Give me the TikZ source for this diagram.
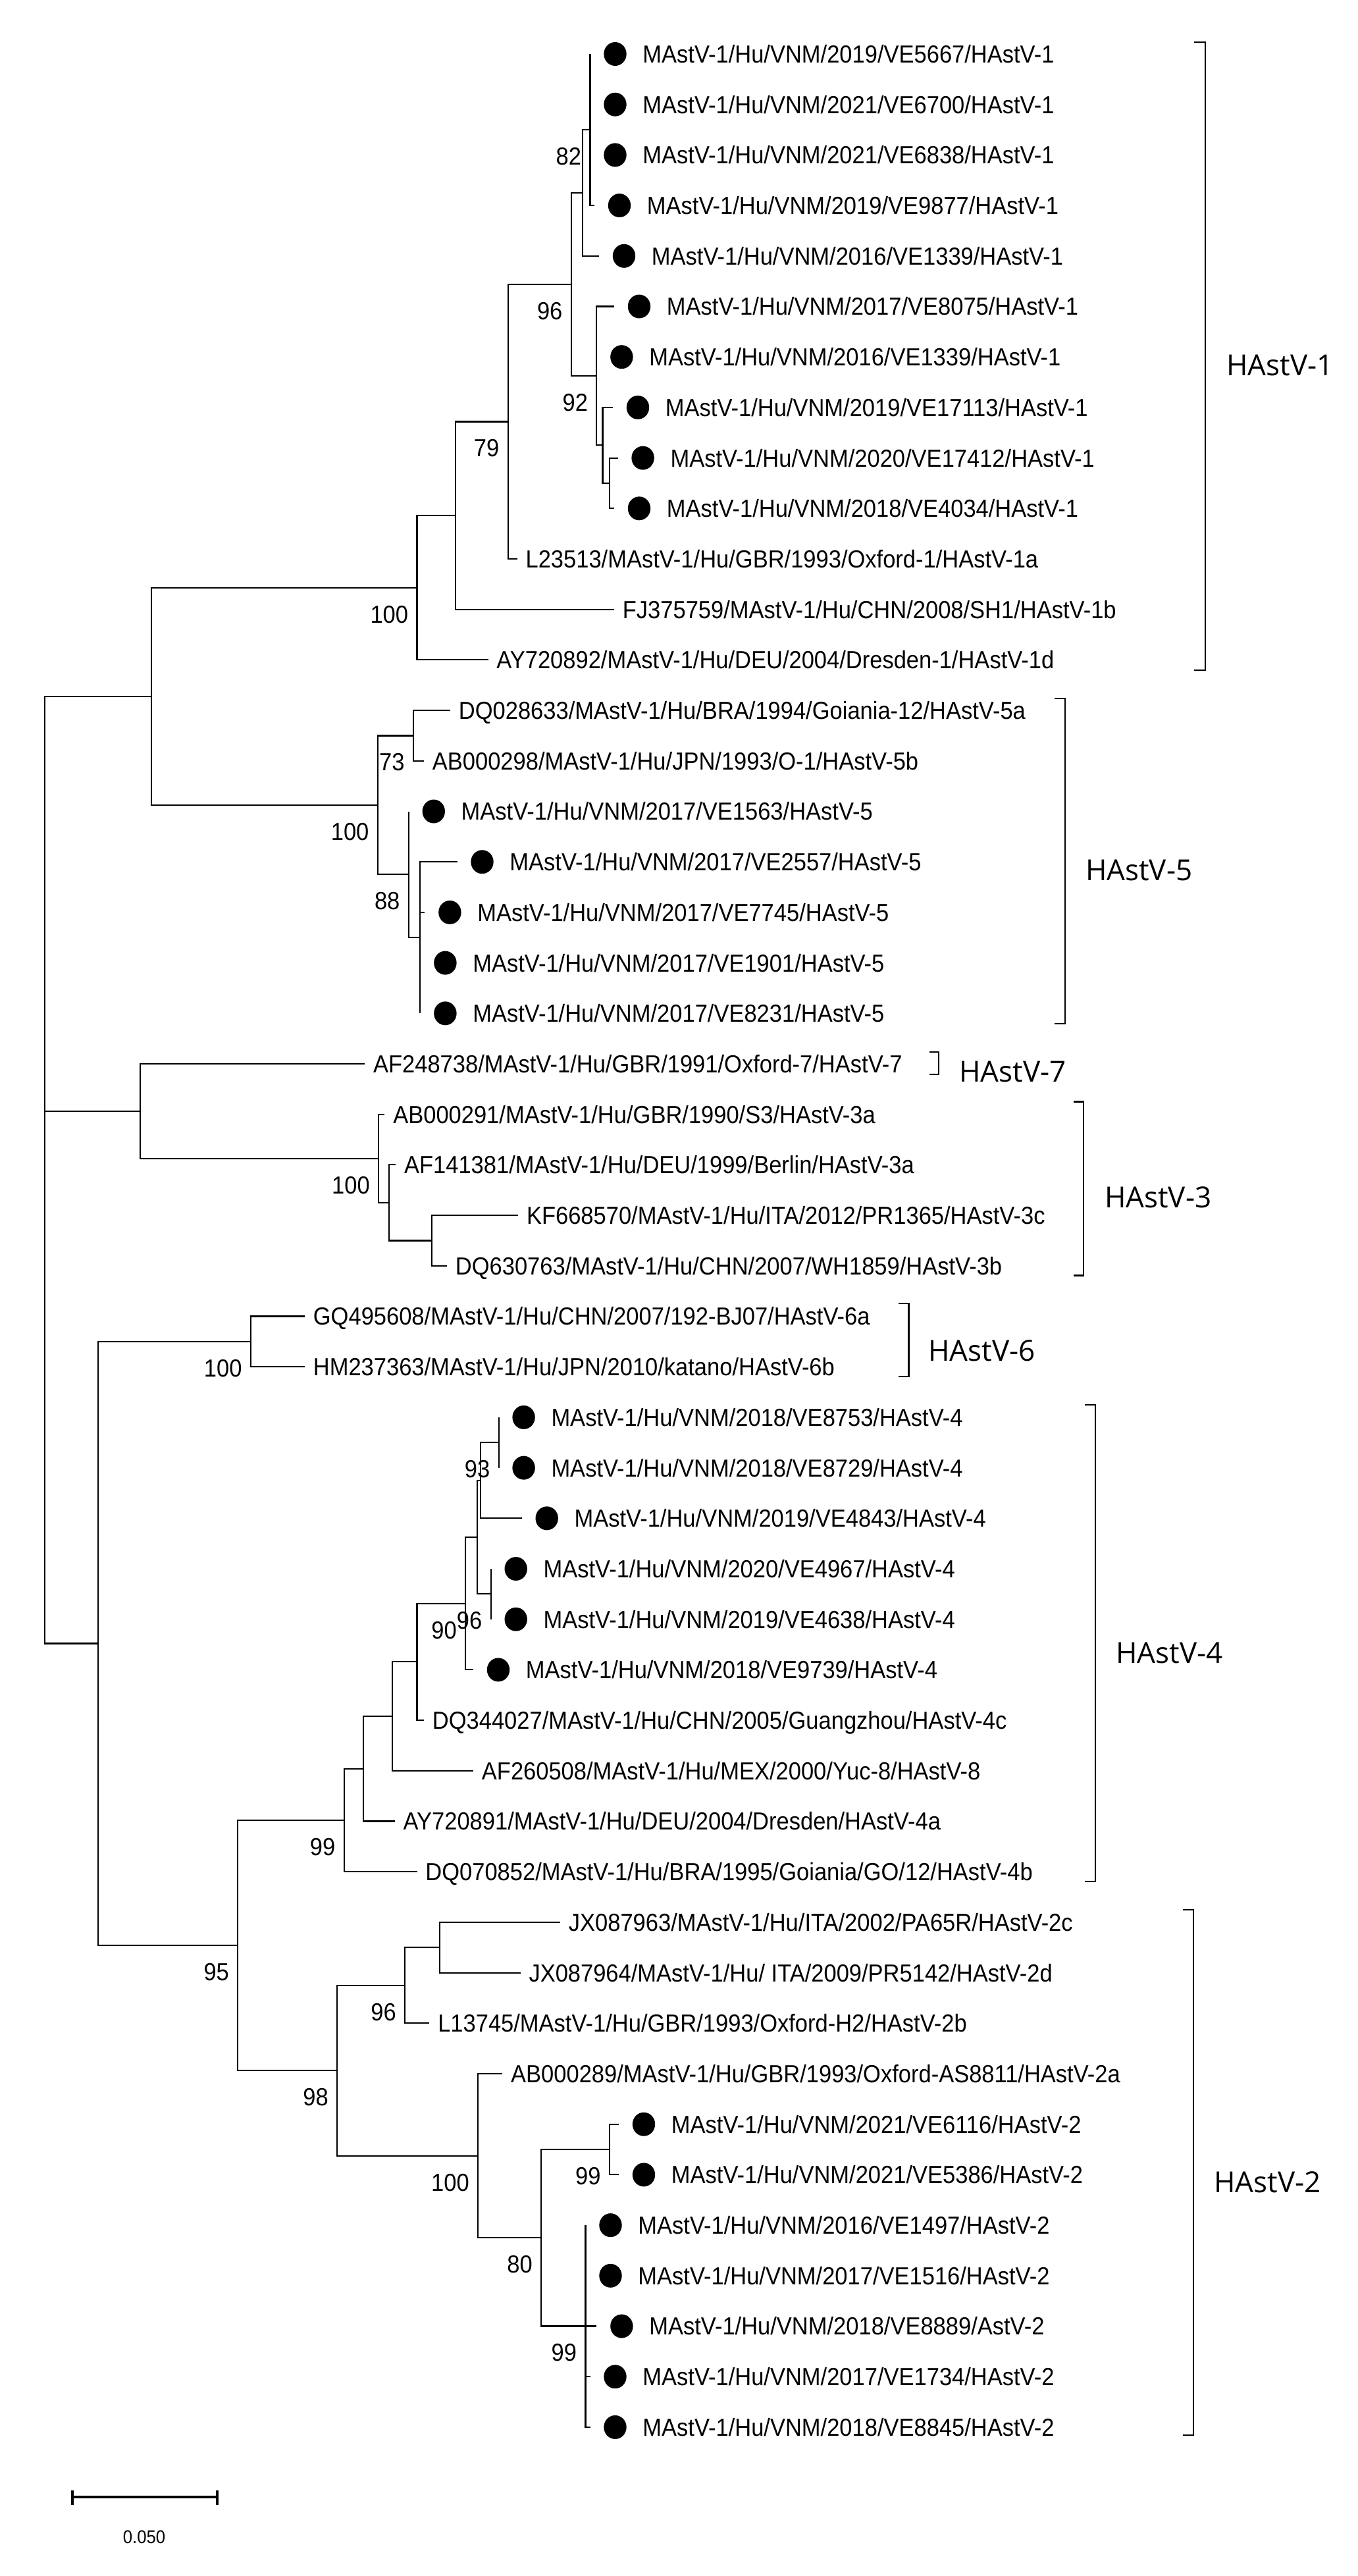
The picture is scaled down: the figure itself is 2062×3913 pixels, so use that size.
\documentclass[tikz,border=0pt]{standalone}
\usepackage{fontspec}
\setmainfont{Liberation Sans}
\newfontfamily\leaffont{Liberation Sans}[FakeStretch=0.92]
\newfontfamily\cladefont{Open Sans}
\usetikzlibrary{calc,shapes.geometric}
\newcommand\dleaf[4]{%
  \coordinate (l#1) at (#2,#3);
  \node[dotn] (d#1) at ($(l#1)+(38,0)$) {};
  \node[leaflab] (t#1) at ($(l#1)+(79.5,13.4)$) {#4};
}
\newcommand\pleaf[4]{%
  \coordinate (l#1) at (#2,#3);
  \node[leaflab] (t#1) at ($(l#1)+(12.5,13.4)$) {#4};
}
\newcommand\boot[2]{\node[bootlab] (b#1) at ($(#1)+(-13,53.4)$) {#2};}
\begin{document}
\begin{tikzpicture}[x=0.5pt,y=-0.5pt,
  br/.style={line width=1.05pt},
  brk/.style={line width=1.1pt},
  dotn/.style={ellipse,fill=black,draw=none,inner sep=0pt,minimum width=17.2pt,minimum height=18pt},
  leaflab/.style={anchor=base west,inner sep=0pt,font=\leaffont\fontsize{18.75pt}{20pt}\selectfont},
  bootlab/.style={anchor=base east,inner sep=0pt,font=\leaffont\fontsize{18.75pt}{20pt}\selectfont},
  clade/.style={anchor=base west,inner sep=0pt,font=\cladefont\fontsize{22pt}{24pt}\selectfont},
  scaletxt/.style={anchor=center,inner sep=0pt,font=\leaffont\fontsize{14pt}{16pt}\selectfont}]
\fill[white] (0,0) rectangle (2062,3913);
\useasboundingbox (0,0) rectangle (2062,3913);

% ---------- internal nodes ----------
\coordinate (nA) at (896.5,197.05);
\coordinate (nB) at (885.3,292.9);
\coordinate (nG) at (926,733.95);
\coordinate (nF) at (915.5,676.4);
\coordinate (nD) at (906.4,570.95);
\coordinate (nC) at (867.8,431.9);
\coordinate (nE) at (771.7,640.45);
\coordinate (nH) at (692.4,783.1);
\coordinate (nI) at (633.5,892.75);
\coordinate (nK) at (627.9,1117.45);
\coordinate (nN) at (638.4,1424.25);
\coordinate (nM) at (620.8,1328.4);
\coordinate (nL) at (573.8,1222.9);
\coordinate (nJ) at (230,1057.8);
\coordinate (nR) at (655.9,1884.45);
\coordinate (nQ) at (591.4,1826.9);
\coordinate (nP) at (575.2,1759.8);
\coordinate (nO) at (212.6,1687.9);
\coordinate (nU) at (380.9,2037.85);
\coordinate (nW) at (757.6,2191.25);
\coordinate (nX) at (729.6,2248.8);
\coordinate (nZ) at (745.7,2421.35);
\coordinate (nY) at (724.7,2335.1);
\coordinate (nAA) at (707.1,2435.75);
\coordinate (nAB) at (633.5,2524.4);
\coordinate (nAC) at (596.3,2607.1);
\coordinate (nAD) at (552,2686.8);
\coordinate (nAE) at (522.6,2765);
\coordinate (nAF) at (667.8,2958.25);
\coordinate (nAG) at (615.2,3015.8);
\coordinate (nAJ) at (926,3265.05);
\coordinate (nAL) at (889.5,3533.5);
\coordinate (nAK) at (822.2,3399.3);
\coordinate (nAI) at (726.1,3274.65);
\coordinate (nAH) at (512.1,3145.2);
\coordinate (nV) at (361.3,2955.1);
\coordinate (nT) at (148.7,2496.5);
\coordinate (root) at (68,1777);

% ---------- leaves ----------
\dleaf{1}{896.5}{82.0}{MAstV-1/Hu/VNM/2019/VE5667/HAstV-1}
\dleaf{2}{896.5}{158.7}{MAstV-1/Hu/VNM/2021/VE6700/HAstV-1}
\dleaf{3}{896.5}{235.4}{MAstV-1/Hu/VNM/2021/VE6838/HAstV-1}
\dleaf{4}{903}{312.1}{MAstV-1/Hu/VNM/2019/VE9877/HAstV-1}
\dleaf{5}{910}{388.8}{MAstV-1/Hu/VNM/2016/VE1339/HAstV-1}
\dleaf{6}{933}{465.5}{MAstV-1/Hu/VNM/2017/VE8075/HAstV-1}
\dleaf{7}{906.4}{542.2}{MAstV-1/Hu/VNM/2016/VE1339/HAstV-1}
\dleaf{8}{931}{618.9}{MAstV-1/Hu/VNM/2019/VE17113/HAstV-1}
\dleaf{9}{938.6}{695.6}{MAstV-1/Hu/VNM/2020/VE17412/HAstV-1}
\dleaf{10}{933}{772.3}{MAstV-1/Hu/VNM/2018/VE4034/HAstV-1}
\pleaf{11}{785.7}{849.0}{L23513/MAstV-1/Hu/GBR/1993/Oxford-1/HAstV-1a}
\pleaf{12}{933}{925.7}{FJ375759/MAstV-1/Hu/CHN/2008/SH1/HAstV-1b}
\pleaf{13}{741.5}{1002.4}{AY720892/MAstV-1/Hu/DEU/2004/Dresden-1/HAstV-1d}
\pleaf{14}{684}{1079.1}{DQ028633/MAstV-1/Hu/BRA/1994/Goiania-12/HAstV-5a}
\pleaf{15}{644}{1155.8}{AB000298/MAstV-1/Hu/JPN/1993/O-1/HAstV-5b}
\dleaf{16}{620.8}{1232.5}{MAstV-1/Hu/VNM/2017/VE1563/HAstV-5}
\dleaf{17}{694.5}{1309.2}{MAstV-1/Hu/VNM/2017/VE2557/HAstV-5}
\dleaf{18}{645.4}{1385.9}{MAstV-1/Hu/VNM/2017/VE7745/HAstV-5}
\dleaf{19}{638.4}{1462.6}{MAstV-1/Hu/VNM/2017/VE1901/HAstV-5}
\dleaf{20}{638.4}{1539.3}{MAstV-1/Hu/VNM/2017/VE8231/HAstV-5}
\pleaf{21}{554.2}{1616.0}{AF248738/MAstV-1/Hu/GBR/1991/Oxford-7/HAstV-7}
\pleaf{22}{584.4}{1692.7}{AB000291/MAstV-1/Hu/GBR/1990/S3/HAstV-3a}
\pleaf{23}{601.2}{1769.4}{AF141381/MAstV-1/Hu/DEU/1999/Berlin/HAstV-3a}
\pleaf{24}{787.1}{1846.1}{KF668570/MAstV-1/Hu/ITA/2012/PR1365/HAstV-3c}
\pleaf{25}{679}{1922.8}{DQ630763/MAstV-1/Hu/CHN/2007/WH1859/HAstV-3b}
\pleaf{26}{463}{1999.5}{GQ495608/MAstV-1/Hu/CHN/2007/192-BJ07/HAstV-6a}
\pleaf{27}{463}{2076.2}{HM237363/MAstV-1/Hu/JPN/2010/katano/HAstV-6b}
\dleaf{28}{757.6}{2152.9}{MAstV-1/Hu/VNM/2018/VE8753/HAstV-4}
\dleaf{29}{757.6}{2229.6}{MAstV-1/Hu/VNM/2018/VE8729/HAstV-4}
\dleaf{30}{792.7}{2306.3}{MAstV-1/Hu/VNM/2019/VE4843/HAstV-4}
\dleaf{31}{745.7}{2383.0}{MAstV-1/Hu/VNM/2020/VE4967/HAstV-4}
\dleaf{32}{745.7}{2459.7}{MAstV-1/Hu/VNM/2019/VE4638/HAstV-4}
\dleaf{33}{719}{2536.4}{MAstV-1/Hu/VNM/2018/VE9739/HAstV-4}
\pleaf{34}{644}{2613.1}{DQ344027/MAstV-1/Hu/CHN/2005/Guangzhou/HAstV-4c}
\pleaf{35}{719}{2689.8}{AF260508/MAstV-1/Hu/MEX/2000/Yuc-8/HAstV-8}
\pleaf{36}{599.8}{2766.5}{AY720891/MAstV-1/Hu/DEU/2004/Dresden/HAstV-4a}
\pleaf{37}{633.5}{2843.2}{DQ070852/MAstV-1/Hu/BRA/1995/Goiania/GO/12/HAstV-4b}
\pleaf{38}{851}{2919.9}{JX087963/MAstV-1/Hu/ITA/2002/PA65R/HAstV-2c}
\pleaf{39}{790.6}{2996.6}{JX087964/MAstV-1/Hu/ ITA/2009/PR5142/HAstV-2d}
\pleaf{40}{652.4}{3073.3}{L13745/MAstV-1/Hu/GBR/1993/Oxford-H2/HAstV-2b}
\pleaf{41}{763.3}{3150.0}{AB000289/MAstV-1/Hu/GBR/1993/Oxford-AS8811/HAstV-2a}
\dleaf{42}{940}{3226.7}{MAstV-1/Hu/VNM/2021/VE6116/HAstV-2}
\dleaf{43}{940}{3303.4}{MAstV-1/Hu/VNM/2021/VE5386/HAstV-2}
\dleaf{44}{889.5}{3380.1}{MAstV-1/Hu/VNM/2016/VE1497/HAstV-2}
\dleaf{45}{889.5}{3456.8}{MAstV-1/Hu/VNM/2017/VE1516/HAstV-2}
\dleaf{46}{906.4}{3533.5}{MAstV-1/Hu/VNM/2018/VE8889/AstV-2}
\dleaf{47}{896.5}{3610.2}{MAstV-1/Hu/VNM/2017/VE1734/HAstV-2}
\dleaf{48}{896.5}{3686.9}{MAstV-1/Hu/VNM/2018/VE8845/HAstV-2}

% ---------- branches ----------
\foreach \p/\c in {nA/l1,nA/l2,nA/l3,nA/l4,nB/nA,nB/l5,nG/l9,nG/l10,nF/l8,nF/nG,
  nD/l6,nD/l7,nD/nF,nC/nB,nC/nD,nE/nC,nE/l11,nH/nE,nH/l12,nI/nH,nI/l13,
  nK/l14,nK/l15,nN/l17,nN/l18,nN/l19,nN/l20,nM/l16,nM/nN,nL/nK,nL/nM,nJ/nI,nJ/nL,
  nR/l24,nR/l25,nQ/l23,nQ/nR,nP/l22,nP/nQ,nO/l21,nO/nP,
  nU/l26,nU/l27,nW/l28,nW/l29,nX/nW,nX/l30,nZ/l31,nZ/l32,nY/nX,nY/nZ,
  nAA/nY,nAA/l33,nAB/nAA,nAB/l34,nAC/nAB,nAC/l35,nAD/nAC,nAD/l36,nAE/nAD,nAE/l37,
  nAF/l38,nAF/l39,nAG/nAF,nAG/l40,nAJ/l42,nAJ/l43,
  nAL/l44,nAL/l45,nAL/l46,nAL/l47,nAL/l48,nAK/nAJ,nAK/nAL,nAI/l41,nAI/nAK,
  nAH/nAG,nAH/nAI,nV/nAE,nV/nAH,nT/nU,nT/nV,root/nJ,root/nO,root/nT}
  \draw[br] (\p) |- (\c);

% ---------- bootstrap values ----------
\boot{nA}{82}
\boot{nC}{96}
\boot{nD}{92}
\boot{nE}{79}
\boot{nI}{100}
\boot{nK}{73}
\boot{nL}{100}
\boot{nM}{88}
\boot{nP}{100}
\boot{nU}{100}
\boot{nW}{93}
\boot{nZ}{96}
\boot{nAA}{90}
\boot{nAE}{99}
\boot{nV}{95}
\boot{nAG}{96}
\boot{nAH}{98}
\boot{nAI}{100}
\boot{nAJ}{99}
\boot{nAK}{80}
\boot{nAL}{99}

% ---------- clade brackets ----------
\draw[brk] (1814,64) -- (1831,64) -- (1831,1018) -- (1814,1018);
\draw[brk] (1602,1061) -- (1618,1061) -- (1618,1555) -- (1602,1555);
\draw[brk] (1412,1598) -- (1426,1598) -- (1426,1632) -- (1412,1632);
\draw[brk] (1631,1673.5) -- (1646,1673.5) -- (1646,1937.5) -- (1631,1937.5);
\draw[brk] (1365,1980.3) -- (1380.4,1980.3) -- (1380.4,2091.2) -- (1365,2091.2);
\draw[brk] (1648,2133.6) -- (1663.6,2133.6) -- (1663.6,2857.9) -- (1648,2857.9);
\draw[brk] (1797,2901) -- (1813,2901) -- (1813,3699) -- (1797,3699);

\node[clade] (c1) at (1863,570.7) {HAstV-1};
\node[clade] (c5) at (1648.7,1337.7) {HAstV-5};
\node[clade] (c7) at (1457,1643.7) {HAstV-7};
\node[clade] (c3) at (1677.7,1834.5) {HAstV-3};
\node[clade] (c6) at (1410,2067.7) {HAstV-6};
\node[clade] (c4) at (1695,2526.3) {HAstV-4};
\node[clade] (c2) at (1844,3330.7) {HAstV-2};

% ---------- scale bar ----------
\coordinate (sbL) at (110,3793.3);
\coordinate (sbR) at (330,3793.3);
\draw[line width=2pt] (sbL) -- (sbR);
\draw[line width=2pt] ($(sbL)+(0,-10.5)$) -- ($(sbL)+(0,11.5)$);
\draw[line width=2pt] ($(sbR)+(0,-10.5)$) -- ($(sbR)+(0,11.5)$);
\node[scaletxt] (sbt) at (219,3854) {0.050};
\end{tikzpicture}
\end{document}
